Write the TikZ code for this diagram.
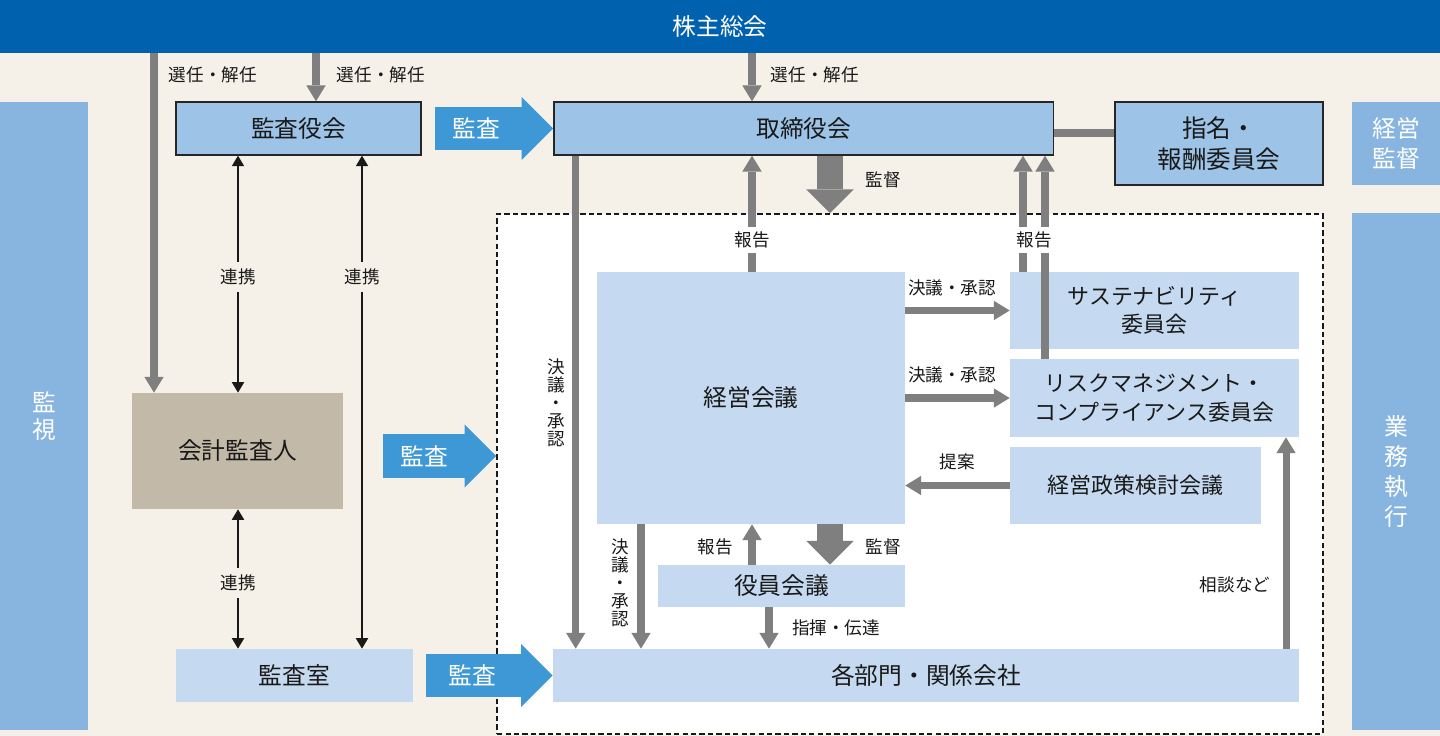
\documentclass[tikz,border=0pt]{standalone}
\usepackage{fontspec}
\setmainfont{Noto Sans CJK JP}
\usetikzlibrary{arrows.meta}
\definecolor{banner}{HTML}{0062AE}
\definecolor{cream}{HTML}{F5F1E8}
\definecolor{column}{HTML}{88B5E0}
\definecolor{board}{HTML}{9DC3E6}
\definecolor{pale}{HTML}{C5DAF0}
\definecolor{flow}{HTML}{7F7F7F}
\definecolor{audit}{HTML}{3E98D5}
\definecolor{auditor}{HTML}{C3B9A8}

\tikzset{
    bigtext/.style={font=\fontsize{13.5}{17}\selectfont},
    midtext/.style={font=\fontsize{12.5}{16}\selectfont},
    smalltext/.style={font=\fontsize{10}{10.5}\selectfont},
    block/.style={bigtext, inner sep=0pt, align=center, text=black!90},
    boardbox/.style={block, fill=board, draw=black!85, line width=0.8pt},
    palebox/.style={block, fill=pale},
    sidebar/.style={block, fill=column, text=white},
    pipe/.style={draw=flow, line width=4pt, -{Triangle[width=11pt,length=9pt,line width=0pt]}},
    widepipe/.style={draw=flow, line width=15pt, -{Triangle[width=27pt,length=13.5pt,line width=0pt]}},
    link/.style={draw=black!90, line width=0.6pt, {Triangle[width=7pt,length=6pt]}-{Triangle[width=7pt,length=6pt]}},
    auditarrow/.style={draw=audit, line width=25pt, -{Triangle[width=36pt,length=18pt,line width=0pt]}},
    lbl/.style={smalltext, inner sep=2pt, text=black!90},
    audittext/.style={bigtext, text=white, inner sep=0pt},
}

\begin{document}
\begin{tikzpicture}[x=0.02cm, y=-0.02cm]
    \useasboundingbox (0,0) rectangle (1440,736);
    \fill [cream] (0,0) rectangle (1440,736);

    \node [block, fill=banner, text=white, minimum width=28.8cm, minimum height=1.06cm] (kabunushi) at (720,26.5) {株主総会};
    \node [sidebar, minimum width=1.76cm, minimum height=12.56cm, font=\fontsize{13.5}{15.5}\selectfont] (watch) at (44,416) {監\\視};
    \node [sidebar, minimum width=1.76cm, minimum height=1.66cm, font=\fontsize{13.5}{17.5}\selectfont] (oversight) at (1396,143.5) {経営\\監督};
    \node [sidebar, minimum width=1.76cm, minimum height=10.34cm] (execution) at (1396,471.5) {業\\務\\執\\行};

    \node [draw=black!90, fill=white, line width=1pt, dash pattern=on 3pt off 1.8pt, minimum width=16.52cm, minimum height=10.4cm] (exec) at (910,474) {};

    \node [boardbox, minimum width=4.9cm, minimum height=1.06cm] (kansayaku) at (298.5,128.5) {監査役会};
    \node [boardbox, minimum width=10cm, minimum height=1.06cm] (torishimari) at (803.8,128.5) {取締役会};
    \node [boardbox, minimum width=4.16cm, minimum height=1.66cm, font=\fontsize{14}{18}\selectfont] (shimei) at (1219,143.5) {指名・\\報酬委員会};
    \node [block, fill=auditor, minimum width=4.22cm, minimum height=2.32cm] (kaikei) at (237.5,451) {会計監査人};
    \node [palebox, minimum width=4.74cm, minimum height=1.06cm] (kansashitsu) at (294.5,675.5) {監査室};

    \node [palebox, minimum width=6.16cm, minimum height=5.04cm] (keieikaigi) at (751,398) {経営会議};
    \node [palebox, midtext, minimum width=5.78cm, minimum height=1.54cm] (sustain) at (1154.5,310.5) {サステナビリティ\\委員会};
    \node [palebox, midtext, minimum width=5.78cm, minimum height=1.56cm] (risk) at (1154.5,398) {リスクマネジメント・\\コンプライアンス委員会};
    \node [palebox, midtext, minimum width=5.02cm, minimum height=1.54cm] (seisaku) at (1135.5,485.5) {経営政策検討会議};
    \node [palebox, minimum width=4.94cm, minimum height=0.84cm] (yakuin) at (781.5,586) {役員会議};
    \node [palebox, minimum width=14.92cm, minimum height=1.06cm] (kakubumon) at (926,675.5) {各部門・関係会社};

    \coordinate (selA) at (154,0);
    \coordinate (selB) at (316,0);
    \coordinate (selC) at (752,0);
    \coordinate (decA) at (575.7,0);
    \coordinate (decB) at (641,0);
    \coordinate (repA) at (1023,0);
    \coordinate (repB) at (1045,0);
    \coordinate (supv) at (830,0);
    \coordinate (order) at (769,0);
    \coordinate (consult) at (1286,0);
    \coordinate (linkA) at (238,0);
    \coordinate (linkB) at (362,0);
    \coordinate (tie) at (0,133);

    \draw [pipe] (kabunushi.south -| selA) -- (kaikei.north -| selA);
    \draw [pipe] (kabunushi.south -| selB) -- (kansayaku.north -| selB);
    \draw [pipe] (kabunushi.south -| selC) -- (torishimari.north -| selC);
    \draw [pipe] (torishimari.south -| decA) -- (kakubumon.north -| decA);
    \draw [pipe] (keieikaigi.south -| decB) -- (kakubumon.north -| decB);
    \draw [pipe] (keieikaigi.north -| selC) -- (torishimari.south -| selC);
    \draw [pipe] (sustain.north -| repA) -- (torishimari.south -| repA);
    \draw [pipe] (risk.north -| repB) -- (torishimari.south -| repB);
    \draw [pipe] (keieikaigi.east |- sustain.west) -- (sustain.west);
    \draw [pipe] (keieikaigi.east |- risk.west) -- (risk.west);
    \draw [pipe] (seisaku.west) -- (keieikaigi.east |- seisaku.west);
    \draw [pipe] (kakubumon.north -| consult) -- (risk.south -| consult);
    \draw [pipe] (yakuin.north -| selC) -- (keieikaigi.south -| selC);
    \draw [pipe] (yakuin.south -| order) -- (kakubumon.north -| order);
    \draw [widepipe] (torishimari.south -| supv) -- (exec.north -| supv);
    \draw [widepipe] (keieikaigi.south -| supv) -- (yakuin.north -| supv);
    \draw [draw=flow, line width=4.5pt] (torishimari.east |- tie) -- (shimei.west |- tie);

    \draw [link] (kansayaku.south -| linkA) -- (kaikei.north -| linkA);
    \draw [link] (kansayaku.south -| linkB) -- (kansashitsu.north -| linkB);
    \draw [link] (kaikei.south -| linkA) -- (kansashitsu.north -| linkA);

    \coordinate (auditA) at (435,128.5);
    \coordinate (auditB) at (383,456);
    \coordinate (auditC) at (426,675.5);
    \draw [auditarrow] (auditA) -- (torishimari.west);
    \draw [auditarrow] (auditB) -- (exec.west |- auditB);
    \draw [auditarrow] (auditC) -- (kakubumon.west);
    \node [audittext] (auditAtxt) at (476,128.5) {監査};
    \node [audittext] (auditBtxt) at (424,456) {監査};
    \node [audittext] (auditCtxt) at (472,675.5) {監査};

    \node [lbl, anchor=west] (selAtxt) at (165,75) {選任・解任};
    \node [lbl, anchor=west] (selBtxt) at (333,75) {選任・解任};
    \node [lbl, anchor=west] (selCtxt) at (767,75) {選任・解任};
    \node [lbl, fill=cream, inner sep=4pt] (linkAtxt) at (238,277) {連携};
    \node [lbl, fill=cream, inner sep=4pt] (linkBtxt) at (362,277) {連携};
    \node [lbl, fill=cream, inner sep=4pt] (linkCtxt) at (238,583) {連携};
    \node [lbl] (supvAtxt) at (883,180) {監督};
    \node [lbl, fill=white, inner sep=3pt] (repAtxt) at (752,240) {報告};
    \node [lbl, fill=white, inner sep=3pt] (repBtxt) at (1034,240) {報告};
    \node [lbl, align=center, font=\fontsize{10}{10.3}\selectfont] (decAtxt) at (556,403) {決\\議\\・\\承\\認};
    \node [lbl, align=center, font=\fontsize{10}{10.3}\selectfont] (decBtxt) at (620,583) {決\\議\\・\\承\\認};
    \node [lbl] (resAtxt) at (952,288) {決議・承認};
    \node [lbl] (resBtxt) at (952,375) {決議・承認};
    \node [lbl] (propose) at (957,462) {提案};
    \node [lbl] (repCtxt) at (715,547) {報告};
    \node [lbl] (supvBtxt) at (883,547) {監督};
    \node [lbl] (ordertxt) at (836,628) {指揮・伝達};
    \node [lbl] (consulttxt) at (1235,585) {相談など};
\end{tikzpicture}
\end{document}
